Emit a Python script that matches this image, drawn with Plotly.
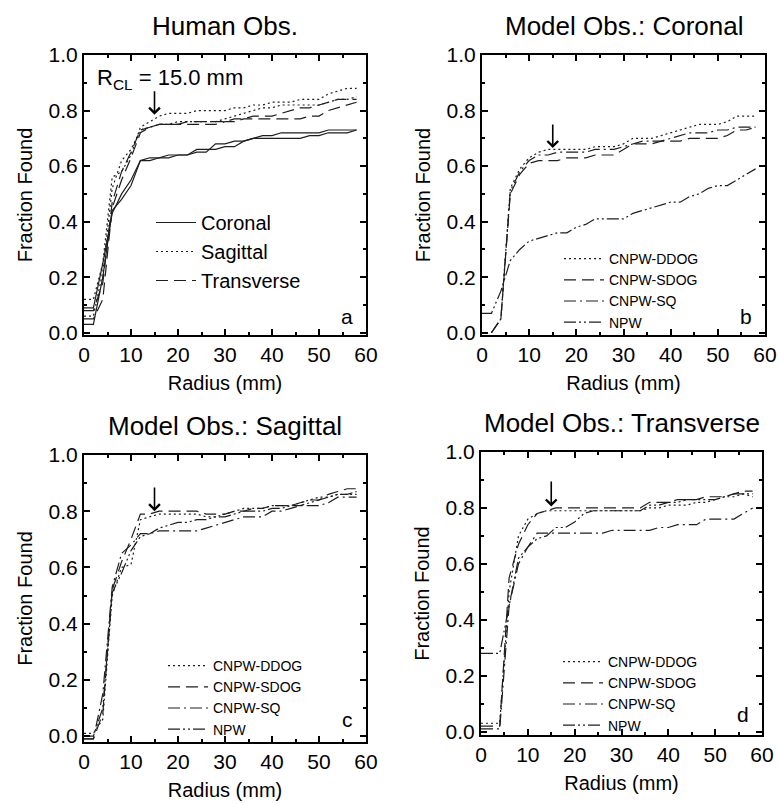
import plotly.graph_objects as go

# ---------------- data ----------------
radius = [0, 2, 4, 6, 8, 10, 12, 14, 16, 18, 20, 22, 24, 26, 28, 30,
          32, 34, 36, 38, 40, 42, 44, 46, 48, 50, 52, 54, 56, 58]

# Panel a: human observers (two readers per orientation)
a_coronal_1 = [0.03, 0.03, 0.20, 0.44, 0.48, 0.53, 0.62, 0.62, 0.63, 0.63, 0.64, 0.64, 0.65, 0.65, 0.68,
               0.68, 0.69, 0.69, 0.70, 0.71, 0.71, 0.72, 0.72, 0.72, 0.72, 0.72, 0.73, 0.73, 0.73, 0.73]
a_coronal_2 = [0.09, 0.09, 0.25, 0.43, 0.50, 0.55, 0.62, 0.63, 0.63, 0.64, 0.64, 0.64, 0.66, 0.66, 0.66,
               0.67, 0.67, 0.69, 0.70, 0.70, 0.70, 0.70, 0.70, 0.70, 0.71, 0.71, 0.72, 0.72, 0.72, 0.73]
a_sagittal_1 = [0.12, 0.12, 0.25, 0.56, 0.58, 0.64, 0.74, 0.76, 0.78, 0.79, 0.79, 0.79, 0.80, 0.80, 0.80,
                0.80, 0.81, 0.81, 0.82, 0.82, 0.83, 0.83, 0.83, 0.84, 0.84, 0.84, 0.86, 0.87, 0.88, 0.88]
a_sagittal_2 = [0.06, 0.06, 0.22, 0.52, 0.62, 0.66, 0.73, 0.74, 0.75, 0.75, 0.76, 0.76, 0.76, 0.76, 0.76,
                0.77, 0.78, 0.79, 0.80, 0.81, 0.81, 0.82, 0.82, 0.82, 0.82, 0.82, 0.83, 0.84, 0.84, 0.85]
a_transverse_1 = [0.08, 0.08, 0.18, 0.47, 0.58, 0.65, 0.73, 0.74, 0.75, 0.75, 0.75, 0.76, 0.76, 0.76, 0.76,
                  0.76, 0.77, 0.77, 0.78, 0.78, 0.78, 0.79, 0.80, 0.81, 0.81, 0.82, 0.83, 0.84, 0.84, 0.84]
a_transverse_2 = [0.05, 0.05, 0.12, 0.45, 0.55, 0.63, 0.72, 0.74, 0.75, 0.75, 0.75, 0.75, 0.75, 0.75, 0.75,
                  0.76, 0.76, 0.77, 0.77, 0.77, 0.77, 0.77, 0.77, 0.77, 0.78, 0.78, 0.80, 0.81, 0.82, 0.83]

# Panel b: model observers, coronal
b_ddog = [None, 0.0, 0.05, 0.52, 0.59, 0.63, 0.65, 0.66, 0.66, 0.66, 0.66, 0.66, 0.67, 0.67, 0.67,
          0.68, 0.70, 0.70, 0.70, 0.71, 0.72, 0.73, 0.74, 0.75, 0.75, 0.75, 0.76, 0.78, 0.78, 0.78]
b_sdog = [None, 0.0, 0.05, 0.50, 0.57, 0.61, 0.62, 0.62, 0.62, 0.63, 0.63, 0.63, 0.64, 0.64, 0.64,
          0.66, 0.68, 0.68, 0.68, 0.69, 0.69, 0.69, 0.70, 0.70, 0.70, 0.70, 0.71, 0.73, 0.73, 0.74]
b_sq = [None, 0.0, 0.05, 0.51, 0.58, 0.62, 0.64, 0.64, 0.65, 0.65, 0.65, 0.65, 0.66, 0.66, 0.66,
        0.67, 0.68, 0.69, 0.69, 0.69, 0.70, 0.71, 0.72, 0.72, 0.72, 0.73, 0.73, 0.74, 0.74, 0.74]
b_npw = [0.07, 0.07, 0.15, 0.26, 0.30, 0.33, 0.34, 0.35, 0.36, 0.36, 0.38, 0.39, 0.41, 0.41, 0.41,
         0.41, 0.43, 0.44, 0.45, 0.46, 0.47, 0.47, 0.49, 0.50, 0.52, 0.53, 0.53, 0.55, 0.57, 0.59]

# Panel c: model observers, sagittal
c_ddog = [0.01, 0.01, 0.06, 0.50, 0.60, 0.61, 0.77, 0.78, 0.79, 0.79, 0.79, 0.79, 0.79, 0.78, 0.78,
          0.79, 0.80, 0.81, 0.81, 0.81, 0.82, 0.82, 0.82, 0.83, 0.84, 0.85, 0.85, 0.86, 0.86, 0.86]
c_sdog = [-0.01, -0.01, 0.08, 0.52, 0.62, 0.70, 0.79, 0.79, 0.80, 0.80, 0.80, 0.80, 0.80, 0.79, 0.79,
          0.79, 0.80, 0.80, 0.81, 0.81, 0.82, 0.82, 0.82, 0.83, 0.84, 0.84, 0.86, 0.87, 0.88, 0.88]
c_sq = [-0.01, -0.01, 0.15, 0.53, 0.65, 0.68, 0.72, 0.72, 0.73, 0.73, 0.73, 0.73, 0.73, 0.74, 0.75,
        0.76, 0.77, 0.78, 0.78, 0.78, 0.80, 0.80, 0.81, 0.82, 0.82, 0.82, 0.83, 0.85, 0.85, 0.85]
c_npw = [0.0, 0.0, 0.10, 0.51, 0.58, 0.66, 0.71, 0.72, 0.74, 0.75, 0.76, 0.76, 0.77, 0.77, 0.78,
         0.78, 0.79, 0.80, 0.80, 0.80, 0.81, 0.81, 0.82, 0.82, 0.83, 0.84, 0.85, 0.86, 0.86, 0.87]

# Panel d: model observers, transverse
d_ddog = [0.03, 0.03, 0.03, 0.50, 0.70, 0.76, 0.78, 0.79, 0.79, 0.79, 0.79, 0.79, 0.79, 0.79, 0.79,
          0.79, 0.79, 0.79, 0.80, 0.80, 0.81, 0.81, 0.81, 0.82, 0.82, 0.83, 0.84, 0.84, 0.85, 0.85]
d_sdog = [0.02, 0.02, 0.02, 0.55, 0.67, 0.74, 0.78, 0.79, 0.80, 0.80, 0.80, 0.80, 0.80, 0.80, 0.80,
          0.80, 0.80, 0.80, 0.82, 0.82, 0.82, 0.83, 0.83, 0.83, 0.84, 0.84, 0.84, 0.85, 0.86, 0.86]
d_sq = [0.01, 0.01, 0.01, 0.45, 0.60, 0.66, 0.71, 0.71, 0.71, 0.71, 0.71, 0.71, 0.71, 0.71, 0.72,
        0.72, 0.72, 0.72, 0.72, 0.73, 0.73, 0.74, 0.74, 0.74, 0.76, 0.76, 0.76, 0.76, 0.78, 0.80]
d_npw = [0.28, 0.28, 0.28, 0.45, 0.62, 0.66, 0.69, 0.70, 0.73, 0.73, 0.75, 0.78, 0.79, 0.79, 0.79,
         0.79, 0.79, 0.79, 0.81, 0.81, 0.82, 0.82, 0.83, 0.83, 0.83, 0.83, 0.84, 0.85, 0.85, 0.84]

panel_titles = ["Human Obs.", "Model Obs.: Coronal", "Model Obs.: Sagittal", "Model Obs.: Transverse"]
panel_letters = ["a", "b", "c", "d"]
human_names = ["Coronal", "Sagittal", "Transverse"]
model_names = ["CNPW-DDOG", "CNPW-SDOG", "CNPW-SQ", "NPW"]
x_ticks = [0, 10, 20, 30, 40, 50, 60]
y_ticks = [0.0, 0.2, 0.4, 0.6, 0.8, 1.0]
r_cl = 15.0

# ---------------- styles ----------------
FONT = "Arial, Liberation Sans, sans-serif"
LC = "#1e1e1e"
LW = 1.2
DASH = {
    "solid": "solid",
    "dot": "2px,3px",
    "dash": "12px,6px",
    "dashdot": "12px,4px,2px,4px",
    "dashdotdot": "12px,3px,2px,3px,2px,3px",
}

fig = go.Figure()

# panel a
human_sets = [
    (human_names[0], [a_coronal_1, a_coronal_2], DASH["solid"]),
    (human_names[1], [a_sagittal_1, a_sagittal_2], DASH["dot"]),
    (human_names[2], [a_transverse_1, a_transverse_2], DASH["dash"]),
]
for name, series, dash in human_sets:
    for k, ys in enumerate(series):
        fig.add_trace(go.Scatter(
            x=radius, y=ys, mode="lines", name=name, legendgroup=name,
            showlegend=(k == 0), legend="legend",
            line=dict(color=LC, width=LW, dash=dash),
            xaxis="x", yaxis="y"))

model_dashes = [DASH["dot"], DASH["dash"], DASH["dashdot"], DASH["dashdotdot"]]
model_panels = [
    ([b_ddog, b_sdog, b_sq, b_npw], "x2", "y2", "legend2"),
    ([c_ddog, c_sdog, c_sq, c_npw], "x3", "y3", "legend3"),
    ([d_ddog, d_sdog, d_sq, d_npw], "x4", "y4", "legend4"),
]
for series, xa, ya, lg in model_panels:
    for name, ys, dash in zip(model_names, series, model_dashes):
        fig.add_trace(go.Scatter(
            x=radius, y=ys, mode="lines", name=name, legend=lg,
            line=dict(color=LC, width=LW, dash=dash),
            xaxis=xa, yaxis=ya))

# ---------------- layout ----------------
W, H = 779, 804
# plot areas in pixels: (left, right, top, bottom)
boxes = [(84, 366, 55, 335), (482, 765, 55, 335), (84, 366, 455, 742), (481, 762, 452, 735)]
y_ranges = [[-0.008, 1.0], [-0.008, 1.0], [-0.021, 1.0], [-0.012, 1.0]]


def dom_x(l, r):
    return [l / W, r / W]


def dom_y(t, b):
    return [1 - b / H, 1 - t / H]


axis_common = dict(
    showline=True, linecolor="black", linewidth=2, mirror="allticks",
    ticks="inside", ticklen=6, tickwidth=2, tickcolor="black",
    showgrid=False, zeroline=False, automargin=False,
    tickfont=dict(family=FONT, size=21, color="black"),
)

layout = dict(
    template="none",
    width=W, height=H, margin=dict(l=0, r=0, t=0, b=0, pad=0),
    paper_bgcolor="white", plot_bgcolor="white",
    font=dict(family=FONT, color="black"),
    annotations=[],
)

for i, (l, r, t, b) in enumerate(boxes):
    sfx = "" if i == 0 else str(i + 1)
    layout["xaxis" + sfx] = dict(
        axis_common, domain=dom_x(l, r), range=[0, 60],
        tickvals=x_ticks, ticktext=[str(v) for v in x_ticks],
        minor=dict(dtick=5, tick0=0, ticks="inside", ticklen=3, tickwidth=1.5, tickcolor="black"),
        anchor="y" + sfx,
        title=dict(text="Radius (mm)", font=dict(family=FONT, size=20), standoff=11),
    )
    layout["yaxis" + sfx] = dict(
        axis_common, domain=dom_y(t, b), range=y_ranges[i],
        tickvals=y_ticks, ticktext=["%.1f" % v for v in y_ticks],
        minor=dict(dtick=0.1, tick0=0, ticks="inside", ticklen=3, tickwidth=1.5, tickcolor="black"),
        anchor="x" + sfx,
        title=dict(text="Fraction Found", font=dict(family=FONT, size=20), standoff=11),
    )
    # panel title
    layout["annotations"].append(dict(
        text=panel_titles[i], xref="paper", yref="paper",
        x=(l + r) / 2 / W, y=1 - (t - 29) / H, xanchor="center", yanchor="middle",
        showarrow=False, font=dict(family=FONT, size=26, color="black")))
    # panel letter
    layout["annotations"].append(dict(
        text=panel_letters[i], xref="x" + sfx, yref="y" + sfx,
        x=56, y=0.06, xanchor="center", yanchor="middle",
        showarrow=False, font=dict(family=FONT, size=21, color="black")))

# arrows marking R_CL
arrow_tips = [(0.785, 0.875), (0.665, 0.755), (0.80, 0.89), (0.805, 0.90)]
for i, (tip, tail) in enumerate(arrow_tips):
    sfx = "" if i == 0 else str(i + 1)
    layout["annotations"].append(dict(
        text="", xref="x" + sfx, yref="y" + sfx, axref="x" + sfx, ayref="y" + sfx,
        x=r_cl, y=tip, ax=r_cl, ay=tail, showarrow=True,
        arrowhead=4, arrowsize=1.3, arrowwidth=1.6, arrowcolor="black"))

layout["annotations"].append(dict(
    text="R<sub>CL</sub> = %.1f mm" % r_cl, xref="x", yref="y",
    x=18.2, y=0.915, xanchor="center", yanchor="middle",
    showarrow=False, font=dict(family=FONT, size=22, color="black")))

legend_common = dict(
    bgcolor="rgba(0,0,0,0)", borderwidth=0, xanchor="left", yanchor="top",
    itemwidth=40, tracegroupgap=0,
)
layout["legend"] = dict(legend_common, x=151 / W, y=1 - 203 / H,
                        font=dict(family=FONT, size=20, color="black"))
layout["legend2"] = dict(legend_common, x=559 / W, y=1 - 243 / H,
                         font=dict(family=FONT, size=14, color="black"))
layout["legend3"] = dict(legend_common, x=163 / W, y=1 - 650 / H,
                         font=dict(family=FONT, size=14, color="black"))
layout["legend4"] = dict(legend_common, x=558 / W, y=1 - 646 / H,
                         font=dict(family=FONT, size=14, color="black"))

fig.update_layout(**layout)
fig.update_layout(showlegend=True)

fig.write_html("out.html")
